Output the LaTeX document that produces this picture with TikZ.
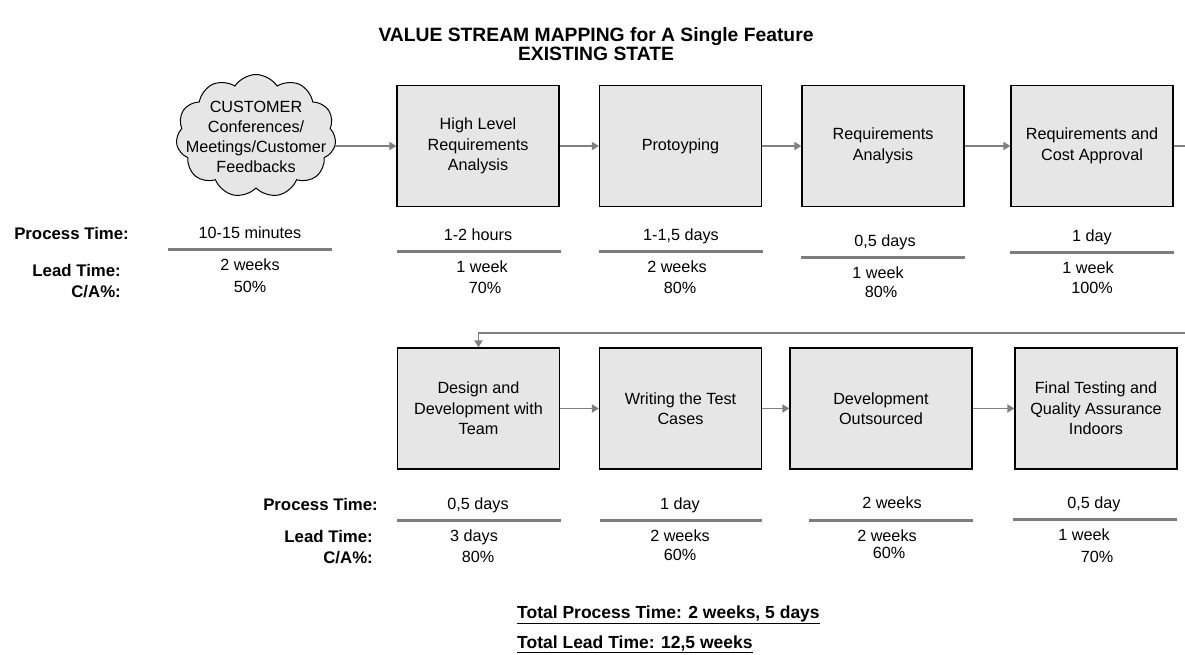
\documentclass[tikz,border=0pt]{standalone}
\usepackage{fontspec}
\setmainfont{Liberation Sans}
\usetikzlibrary{shapes.symbols,arrows.meta}
\definecolor{boxfill}{RGB}{230,230,230}
\definecolor{arrgray}{RGB}{128,128,128}
\definecolor{linegray}{RGB}{125,125,125}
\begin{document}
\begin{tikzpicture}[x=1pt,y=-1pt,
  proc/.style={draw=black, line width=1.2pt, fill=boxfill, minimum width=162pt, minimum height=121pt, inner sep=0pt, align=center, font=\fontsize{16.2}{20.5}\selectfont},
  cloudshape/.style={cloud, cloud puffs=11, cloud puff arc=115, draw=black, line width=1pt, fill=boxfill, minimum width=160pt, minimum height=123pt, inner sep=0pt},
  val/.style={anchor=base, inner sep=0pt, font=\fontsize{16.2}{18}\selectfont},
  lab/.style={anchor=base east, inner sep=0pt, font=\fontsize{16.8}{18}\selectfont\bfseries},
  dline/.style={draw=linegray, line width=3pt},
  arr/.style={draw=arrgray, line width=1.8pt, -{Triangle[length=7pt,width=8pt]}},
  ttl/.style={anchor=base, inner sep=0pt, font=\fontsize{19.3}{22}\selectfont\bfseries},
  tot/.style={anchor=base west, inner sep=0pt, font=\fontsize{17.5}{20}\selectfont\bfseries}
]
\clip (0,0) rectangle (1185,654);
\fill[white] (0,0) rectangle (1185,654);

% title
\node[ttl] (t1) at (596,41) {VALUE STREAM MAPPING for A Single Feature};
\node[ttl] (t2) at (596,60) {EXISTING STATE};

% top row
\node[cloudshape] (cloud) at (256,136) {};
\node[align=center, inner sep=0pt, font=\fontsize{16.2}{20}\selectfont] (ctext) at (256,137) {CUSTOMER\\Conferences/\\Meetings/Customer\\Feedbacks};
\node[proc] (b1) at (478,146) {High Level\\Requirements\\Analysis};
\node[proc] (b2) at (680.5,146) {Protoyping};
\node[proc] (b3) at (883,146) {Requirements\\Analysis};
\node[proc] (b4) at (1092,146) {Requirements and\\Cost Approval};

% bottom row
\node[proc] (b5) at (478.5,408.5) {Design and\\Development with\\Team};
\node[proc] (b6) at (680.5,408.5) {Writing the Test\\Cases};
\node[proc, minimum width=182pt] (b7) at (881,408.5) {Development\\Outsourced};
\node[proc] (b8) at (1096,408.5) {Final Testing and\\Quality Assurance\\Indoors};

% connectors
\draw[arr] (cloud.east |- b1.west) -- (b1.west);
\draw[arr] (b1.east) -- (b2.west);
\draw[arr] (b2.east) -- (b3.west);
\draw[arr] (b3.east) -- (b4.west);
\coordinate (fr1) at (1195,146);
\coordinate (fr2) at (1195,333);
\draw[arr] (b4.east) -- (fr1) -- (fr2) -| (b5.north);
\draw[arr] (b5.east) -- (b6.west);
\draw[arr] (b6.east) -- (b7.west);
\draw[arr] (b7.east) -- (b8.west);

% labels top
\node[lab] (lp1) at (129,239) {Process Time:};
\node[lab] (ll1) at (121,276) {Lead Time:};
\node[lab] (lc1) at (121,297) {C/A\%:};

% values top
\node[val] (p0) at (250,238.5) {10-15 minutes};
\draw[dline] (168,249) -- (332,249);
\node[val] (l0) at (250,270.5) {2 weeks};
\node[val] (c0) at (250,292) {50\%};

\node[val] (p1) at (478,240.5) {1-2 hours};
\draw[dline] (397,251) -- (561,251);
\node[val] (l1) at (482,272.5) {1 week};
\node[val] (c1) at (485,293.5) {70\%};

\node[val] (p2) at (681,240.5) {1-1,5 days};
\draw[dline] (599,251) -- (763,251);
\node[val] (l2) at (677,272.5) {2 weeks};
\node[val] (c2) at (680,293.5) {80\%};

\node[val] (p3) at (885,246.5) {0,5 days};
\draw[dline] (801,257) -- (965,257);
\node[val] (l3) at (878,278.5) {1 week};
\node[val] (c3) at (881,297.5) {80\%};

\node[val] (p4) at (1092,241.5) {1 day};
\draw[dline] (1010,252) -- (1174,252);
\node[val] (l4) at (1088,273.5) {1 week};
\node[val] (c4) at (1092,293.5) {100\%};

% labels bottom
\node[lab] (lp2) at (378,510) {Process Time:};
\node[lab] (ll2) at (373,542) {Lead Time:};
\node[lab] (lc2) at (373,563) {C/A\%:};

% values bottom
\node[val] (p5) at (478,509.5) {0,5 days};
\draw[dline] (397,520) -- (561,520);
\node[val] (l5) at (474,541.5) {3 days};
\node[val] (c5) at (478,562.5) {80\%};

\node[val] (p6) at (680,509.5) {1 day};
\draw[dline] (600,520) -- (762,520);
\node[val] (l6) at (680,541.5) {2 weeks};
\node[val] (c6) at (680,560.5) {60\%};

\node[val] (p7) at (892,508.5) {2 weeks};
\draw[dline] (809,520) -- (973,520);
\node[val] (l7) at (887,541.5) {2 weeks};
\node[val] (c7) at (889,558.5) {60\%};

\node[val] (p8) at (1094,508.5) {0,5 day};
\draw[dline] (1013,519) -- (1177,519);
\node[val] (l8) at (1084,540.5) {1 week};
\node[val] (c8) at (1097,562.5) {70\%};

% totals
\node[tot] (tp) at (517,618) {\underline{Total Process Time: 2 weeks, 5 days}};
\node[tot] (tl) at (517,648) {\underline{Total Lead Time: 12,5 weeks}};
\end{tikzpicture}
\end{document}
